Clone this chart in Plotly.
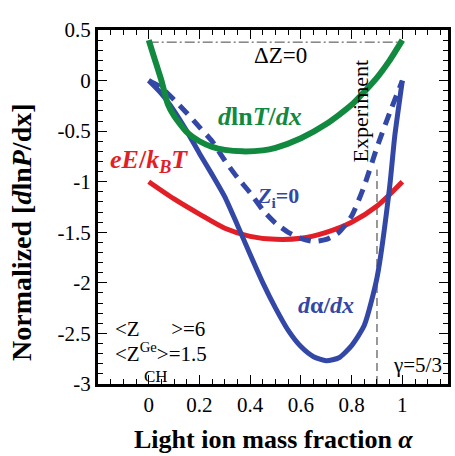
import plotly.graph_objects as go

# ---------------- data ----------------
alpha_green = [0, 0.025, 0.05, 0.075, 0.1, 0.15, 0.2, 0.25, 0.3, 0.37, 0.45, 0.5, 0.6, 0.7, 0.8, 0.9, 0.95, 1.0]
dlnT_dx = [0.4, 0.2, 0.0, -0.23, -0.35, -0.51, -0.6, -0.655, -0.685, -0.70, -0.69, -0.665, -0.57, -0.43, -0.24, 0.03, 0.2, 0.4]

alpha_red = [0, 0.1, 0.2, 0.3, 0.4, 0.5, 0.6, 0.7, 0.8, 0.9, 1.0]
eE_kBT = [-1.0, -1.17, -1.32, -1.46, -1.54, -1.57, -1.56, -1.5, -1.4, -1.24, -1.0]

alpha_blue = [0, 0.05, 0.1, 0.15, 0.2, 0.25, 0.3, 0.35, 0.4, 0.45, 0.5, 0.55, 0.6, 0.65, 0.7, 0.75, 0.8, 0.85, 0.9, 0.95, 0.97, 1.0]
dalpha_dx = [0, -0.13, -0.3, -0.5, -0.72, -0.93, -1.15, -1.43, -1.72, -2.0, -2.25, -2.47, -2.63, -2.73, -2.77, -2.74, -2.62, -2.42, -1.95, -1.05, -0.55, 0.0]

alpha_zi = [0, 0.05, 0.1, 0.15, 0.2, 0.25, 0.3, 0.35, 0.4, 0.45, 0.5, 0.55, 0.6, 0.65, 0.7, 0.75, 0.8, 0.85, 0.9, 0.95, 1.0]
zi0 = [0, -0.07, -0.19, -0.32, -0.46, -0.6, -0.79, -0.96, -1.11, -1.28, -1.41, -1.5, -1.56, -1.59, -1.57, -1.5, -1.34, -1.04, -0.66, -0.32, 0.0]

dz0_alpha = [0, 1]
dz0_level = [0.38, 0.38]
experiment_alpha = [0.9, 0.9]
experiment_y = [-3.0, -0.88]

x_tickvals = [0, 0.2, 0.4, 0.6, 0.8, 1.0]
x_ticktext = ["0", "0.2", "0.4", "0.6", "0.8", "1"]
y_tickvals = [0.5, 0, -0.5, -1, -1.5, -2, -2.5, -3]
y_ticktext = ["0.5", "0", "-0.5", "-1", "-1.5", "-2", "-2.5", "-3"]

GREEN = "#11893f"
RED = "#e21f27"
BLUE = "#3347a6"
SERIF = "Liberation Serif, Times New Roman, serif"

fig = go.Figure()

fig.add_trace(go.Scatter(x=dz0_alpha, y=dz0_level, mode="lines",
                         line=dict(color="#444", width=1, dash="10px,3px,2px,3px")))
fig.add_trace(go.Scatter(x=experiment_alpha, y=experiment_y, mode="lines",
                         line=dict(color="#333", width=1, dash="8px,5px")))
fig.add_trace(go.Scatter(x=alpha_red, y=eE_kBT, mode="lines",
                         line=dict(color=RED, width=5, shape="spline", smoothing=0.8)))
fig.add_trace(go.Scatter(x=alpha_blue, y=dalpha_dx, mode="lines",
                         line=dict(color=BLUE, width=5, shape="spline", smoothing=0.6)))
fig.add_trace(go.Scatter(x=alpha_zi, y=zi0, mode="lines",
                         line=dict(color=BLUE, width=5, dash="12px,8px", shape="spline", smoothing=0.6)))
fig.add_trace(go.Scatter(x=alpha_green, y=dlnT_dx, mode="lines",
                         line=dict(color=GREEN, width=6, shape="spline", smoothing=0.6)))

axis_common = dict(showline=True, linewidth=3, linecolor="black", mirror="allticks",
                   ticks="inside", ticklen=9, tickwidth=1, tickcolor="black",
                   showgrid=False, zeroline=False,
                   tickfont=dict(family=SERIF, size=21, color="black"))

fig.update_xaxes(range=[-0.2, 1.18], tickmode="array", tickvals=x_tickvals, ticktext=x_ticktext,
                 minor=dict(ticks="inside", ticklen=5, tickwidth=1, tickcolor="black",
                            tick0=0, dtick=0.05, showgrid=False),
                 **axis_common)
fig.update_yaxes(range=[-3, 0.5], tickmode="array", tickvals=y_tickvals, ticktext=y_ticktext,
                 minor=dict(ticks="inside", ticklen=5, tickwidth=1, tickcolor="black",
                            tick0=0, dtick=0.1, showgrid=False),
                 **axis_common)

ann = []
def T(text, x, y, size, color="black", bold=False, **kw):
    d = dict(text=("<b>%s</b>" % text) if bold else text, x=x, y=y, xref="x", yref="y",
             showarrow=False, font=dict(family=SERIF, size=size, color=color))
    d.update(kw)
    ann.append(d)

T("Ge", -0.012, 0.65, 25)
T("CH", 0.99, 0.65, 25)
ann.append(dict(x=0.925, y=0.65, ax=0.063, ay=0.65, xref="x", yref="y", axref="x", ayref="y",
                text="", showarrow=True, arrowhead=2, arrowsize=2.2, arrowwidth=1, arrowcolor="black"))
T("ΔZ=0", 0.52, 0.25, 23)
T("<i>d</i>ln<i>T</i>/<i>dx</i>", 0.44, -0.36, 26, GREEN, bold=True)
T("<i>eE</i>/<i>k<sub>B</sub>T</i>", 0.0, -0.8, 26, RED, bold=True)
T("<i>Z</i><sub>i</sub>=0", 0.51, -1.15, 22, BLUE, bold=True)
T("<i>d</i>α/<i>dx</i>", 0.70, -2.22, 24, BLUE, bold=True)
T("Experiment", 0.835, -0.30, 22, textangle=-90)
T("&lt;Z\u2003\u2002&gt;=6", -0.14, -2.46, 21, xanchor="left")
T("&lt;Z<sup>Ge</sup>&gt;=1.5", -0.14, -2.69, 21, xanchor="left")
T("CH", 0.03, -2.93, 17)
T("γ=5/3", 1.06, -2.81, 21)

ann.append(dict(text="<b>Normalized [<i>d</i>ln<i>P</i>/dx]</b>", xref="paper", yref="paper",
                x=-0.217, y=0.427, xanchor="center", yanchor="middle", textangle=-90, showarrow=False,
                font=dict(family=SERIF, size=28, color="black")))
ann.append(dict(text="<b>Light ion mass fraction <i>α</i></b>", xref="paper", yref="paper",
                x=0.5, y=-0.158, xanchor="center", yanchor="middle", showarrow=False,
                font=dict(family=SERIF, size=26, color="black")))

fig.update_layout(width=455, height=456, margin=dict(l=98, r=4, t=30, b=72),
                  paper_bgcolor="white", plot_bgcolor="white", showlegend=False,
                  annotations=ann)

fig.write_html("out.html")
